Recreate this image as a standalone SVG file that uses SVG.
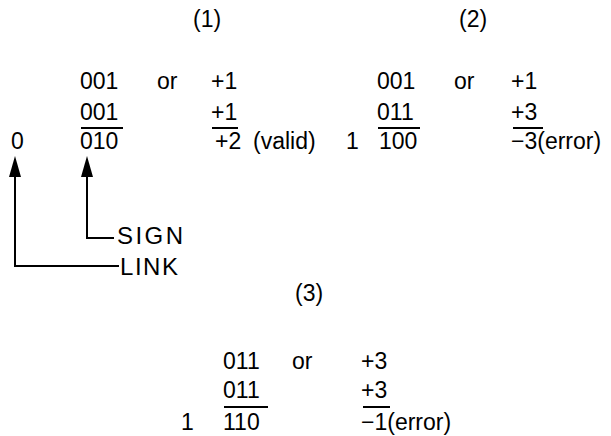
<svg xmlns="http://www.w3.org/2000/svg" width="611" height="436" viewBox="0 0 611 436">
<style>
text{font-family:"Liberation Sans",Arial,sans-serif;font-size:23px;fill:#000}
.lbl{font-size:24px}
.rule{stroke:#000;stroke-width:2}
.conn{fill:none;stroke:#000;stroke-width:2}
.head{fill:#000}
</style>
<rect width="611" height="436" fill="#fff"/>
<g id="ex1">
<text x="193" y="27">(1)</text>
<text x="80" y="89">001</text>
<text x="157" y="89">or</text>
<text x="211" y="89">+1</text>
<text x="80" y="120">001</text>
<text x="211" y="120">+1</text>
<line class="rule" x1="81" y1="128" x2="123" y2="128"/>
<line class="rule" x1="212" y1="128" x2="238" y2="128"/>
<text x="11" y="149">0</text>
<text x="80" y="149">010</text>
<text x="215" y="149">+2</text>
<text x="253" y="149">(valid)</text>
</g>
<g id="ex2">
<text x="459" y="27">(2)</text>
<text x="377" y="89">001</text>
<text x="454" y="89">or</text>
<text x="511" y="89">+1</text>
<text x="377" y="120">011</text>
<text x="511" y="120">+3</text>
<line class="rule" x1="378" y1="128" x2="420" y2="128"/>
<line class="rule" x1="513" y1="128" x2="543" y2="128"/>
<text x="346" y="149">1</text>
<text x="379" y="149">100</text>
<text x="511" y="149">−3(error)</text>
</g>
<g id="ex3">
<text x="295" y="301">(3)</text>
<text x="223" y="369">011</text>
<text x="292" y="369">or</text>
<text x="361" y="369">+3</text>
<text x="223" y="398">011</text>
<text x="361" y="398">+3</text>
<line class="rule" x1="224" y1="407" x2="268" y2="407"/>
<line class="rule" x1="363" y1="407" x2="390" y2="407"/>
<text x="181" y="430">1</text>
<text x="223" y="430">110</text>
<text x="361" y="430">−1(error)</text>
</g>
<g id="sign"><text class="lbl" x="117" y="244" textLength="66" lengthAdjust="spacing">SIGN</text></g>
<g id="link"><text class="lbl" x="120" y="275" textLength="58" lengthAdjust="spacing">LINK</text></g>
<g id="connectors">
<path class="conn" d="M114 238 H87 V176"/>
<polygon class="head" points="87,156 93,177 81,177"/>
<path class="conn" d="M119 266 H15 V176"/>
<polygon class="head" points="15,156 21,177 9,177"/>
</g>
</svg>
